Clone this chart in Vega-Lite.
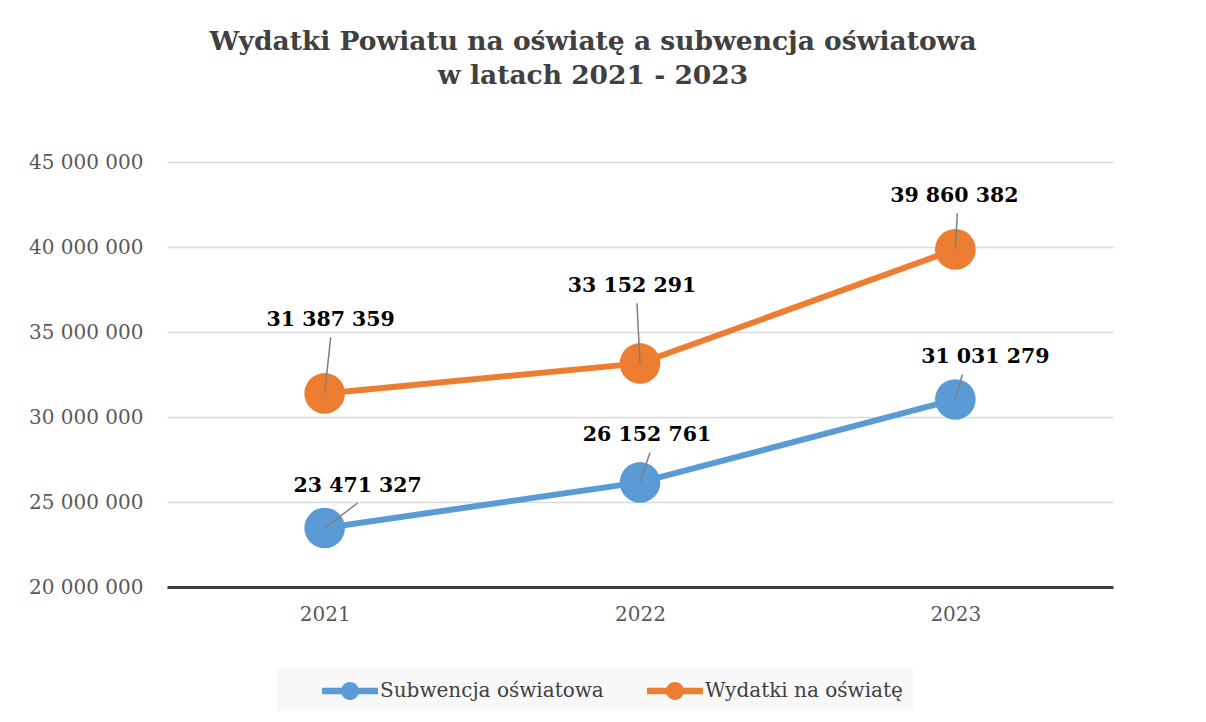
{
  "$schema": "https://vega.github.io/schema/vega-lite/v6.json",
  "width": 946,
  "height": 425,
  "padding": {"left": 28, "top": 28, "right": 10, "bottom": 10},
  "background": "#ffffff",
  "config": {
    "locale": {"number": {"decimal": ",", "thousands": " ", "grouping": [3], "currency": ["", " zł"]}},
    "view": {"stroke": null},
    "font": "DejaVu Serif"
  },
  "title": {
    "text": ["Wydatki Powiatu na oświatę a subwencja oświatowa", "w latach 2021 - 2023"],
    "font": "DejaVu Serif",
    "fontSize": 26.5,
    "fontWeight": "bold",
    "lineHeight": 34,
    "color": "#404040",
    "anchor": "middle",
    "dx": -47,
    "offset": 63
  },
  "data": {
    "values": [
      {"year": "2021", "series": "Subwencja oświatowa", "value": 23471327},
      {"year": "2022", "series": "Subwencja oświatowa", "value": 26152761},
      {"year": "2023", "series": "Subwencja oświatowa", "value": 31031279},
      {"year": "2021", "series": "Wydatki na oświatę", "value": 31387359},
      {"year": "2022", "series": "Wydatki na oświatę", "value": 33152291},
      {"year": "2023", "series": "Wydatki na oświatę", "value": 39860382}
    ]
  },
  "encoding": {
    "x": {
      "field": "year",
      "type": "ordinal",
      "scale": {"type": "point", "padding": 0.5},
      "axis": {
        "title": null,
        "labelAngle": 0,
        "labelFont": "DejaVu Serif",
        "labelFontSize": 20,
        "labelColor": "#595959",
        "labelPadding": 17,
        "ticks": false,
        "grid": false,
        "domain": true,
        "domainColor": "#404040",
        "domainWidth": 3
      }
    },
    "y": {
      "field": "value",
      "type": "quantitative",
      "scale": {"domain": [20000000, 45000000], "nice": false, "zero": false},
      "axis": {
        "title": null,
        "values": [20000000, 25000000, 30000000, 35000000, 40000000, 45000000],
        "format": ",d",
        "labelFont": "DejaVu Serif",
        "labelFontSize": 20,
        "labelColor": "#595959",
        "labelPadding": 24,
        "ticks": false,
        "domain": false,
        "grid": true,
        "gridColor": "#d9d9d9",
        "gridWidth": 1.5,
        "minExtent": 139,
        "maxExtent": 139
      }
    }
  },
  "layer": [
    {
      "mark": {"type": "line", "strokeWidth": 6, "strokeCap": "round"},
      "encoding": {
        "color": {
          "field": "series",
          "type": "nominal",
          "scale": {"domain": ["Subwencja oświatowa", "Wydatki na oświatę"], "range": ["#5B9BD5", "#ED7D31"]},
          "legend": {
            "title": null,
            "orient": "none",
            "legendX": 110,
            "legendY": 507,
            "direction": "horizontal",
            "fillColor": "#f8f8f8",
            "padding": 10,
            "symbolType": "M-2.33,-0.27H2.33V0.27H-2.33ZM0,-0.75A0.75,0.75,0,1,1,0,0.75A0.75,0.75,0,1,1,0,-0.75Z",
            "symbolSize": 576,
            "symbolStrokeWidth": 0,
            "symbolOffset": 51,
            "labelOffset": 18,
            "columnPadding": 8,
            "labelFont": "DejaVu Serif",
            "labelFontSize": 20,
            "labelColor": "#404040",
            "labelLimit": 400,
            "encode": {
              "symbols": {"update": {"fill": {"scale": "color", "field": "value"}, "stroke": {"value": "transparent"}, "opacity": {"value": 1}}}
            }
          }
        }
      }
    },
    {
      "mark": {"type": "point", "filled": true, "opacity": 1, "size": 1650, "shape": "circle"},
      "encoding": {
        "color": {"field": "series", "type": "nominal", "legend": null}
      }
    },
    {
      "transform": [{"filter": "datum.series === 'Subwencja oświatowa' && datum.year === '2021'"}],
      "layer": [
        {"mark": {"type": "rule", "color": "#7f7f7f", "strokeWidth": 1.5, "x2Offset": 33, "y2Offset": -25}, "encoding": {"x2": {"field": "year"}, "y2": {"field": "value"}}},
        {"mark": {"type": "text", "font": "DejaVu Serif", "fontSize": 20.5, "fontWeight": "bold", "color": "#000000", "baseline": "middle", "dx": 33, "dy": -42}, "encoding": {"text": {"field": "value", "type": "quantitative", "format": ",d"}}}
      ]
    },
    {
      "transform": [{"filter": "datum.series === 'Subwencja oświatowa' && datum.year === '2022'"}],
      "layer": [
        {"mark": {"type": "rule", "color": "#7f7f7f", "strokeWidth": 1.5, "x2Offset": 10, "y2Offset": -30}, "encoding": {"x2": {"field": "year"}, "y2": {"field": "value"}}},
        {"mark": {"type": "text", "font": "DejaVu Serif", "fontSize": 20.5, "fontWeight": "bold", "color": "#000000", "baseline": "middle", "dx": 7, "dy": -47}, "encoding": {"text": {"field": "value", "type": "quantitative", "format": ",d"}}}
      ]
    },
    {
      "transform": [{"filter": "datum.series === 'Subwencja oświatowa' && datum.year === '2023'"}],
      "layer": [
        {"mark": {"type": "rule", "color": "#7f7f7f", "strokeWidth": 1.5, "x2Offset": 7, "y2Offset": -25}, "encoding": {"x2": {"field": "year"}, "y2": {"field": "value"}}},
        {"mark": {"type": "text", "font": "DejaVu Serif", "fontSize": 20.5, "fontWeight": "bold", "color": "#000000", "baseline": "middle", "dx": 30, "dy": -42}, "encoding": {"text": {"field": "value", "type": "quantitative", "format": ",d"}}}
      ]
    },
    {
      "transform": [{"filter": "datum.series === 'Wydatki na oświatę' && datum.year === '2021'"}],
      "layer": [
        {"mark": {"type": "rule", "color": "#7f7f7f", "strokeWidth": 1.5, "x2Offset": 6, "y2Offset": -56}, "encoding": {"x2": {"field": "year"}, "y2": {"field": "value"}}},
        {"mark": {"type": "text", "font": "DejaVu Serif", "fontSize": 20.5, "fontWeight": "bold", "color": "#000000", "baseline": "middle", "dx": 6, "dy": -73}, "encoding": {"text": {"field": "value", "type": "quantitative", "format": ",d"}}}
      ]
    },
    {
      "transform": [{"filter": "datum.series === 'Wydatki na oświatę' && datum.year === '2022'"}],
      "layer": [
        {"mark": {"type": "rule", "color": "#7f7f7f", "strokeWidth": 1.5, "x2Offset": -3, "y2Offset": -60}, "encoding": {"x2": {"field": "year"}, "y2": {"field": "value"}}},
        {"mark": {"type": "text", "font": "DejaVu Serif", "fontSize": 20.5, "fontWeight": "bold", "color": "#000000", "baseline": "middle", "dx": -8, "dy": -77}, "encoding": {"text": {"field": "value", "type": "quantitative", "format": ",d"}}}
      ]
    },
    {
      "transform": [{"filter": "datum.series === 'Wydatki na oświatę' && datum.year === '2023'"}],
      "layer": [
        {"mark": {"type": "rule", "color": "#7f7f7f", "strokeWidth": 1.5, "x2Offset": 2, "y2Offset": -36}, "encoding": {"x2": {"field": "year"}, "y2": {"field": "value"}}},
        {"mark": {"type": "text", "font": "DejaVu Serif", "fontSize": 20.5, "fontWeight": "bold", "color": "#000000", "baseline": "middle", "dx": -1, "dy": -53}, "encoding": {"text": {"field": "value", "type": "quantitative", "format": ",d"}}}
      ]
    }
  ]
}
